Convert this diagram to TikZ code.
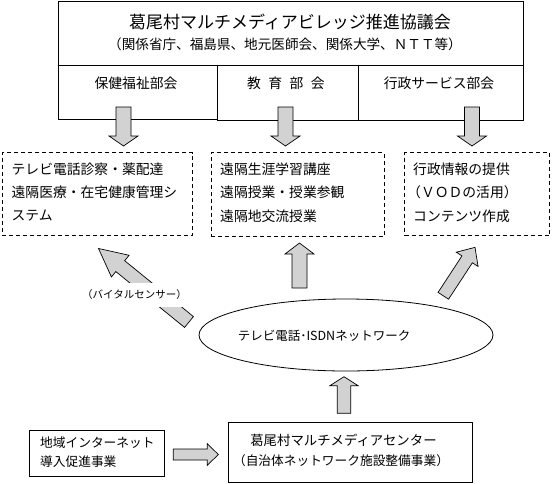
\documentclass[tikz,border=0pt]{standalone}
\usepackage{fontspec}
\setmainfont{Noto Sans CJK JP}
\usetikzlibrary{shapes.geometric}
\definecolor{arrowgray}{RGB}{210,210,210}
\tikzset{
  pics/barrow/.style n args={4}{code={
    \draw[arrowfill] (0,-#3/2) -- ({#1-#2},-#3/2) -- ({#1-#2},-#4/2) -- (#1,0)
      -- ({#1-#2},#4/2) -- ({#1-#2},#3/2) -- (0,#3/2) -- cycle;
  }}
}
\begin{document}
\begin{tikzpicture}[x=1pt,y=-1pt,
  box/.style={draw, line width=0.8pt, inner sep=0pt},
  dbox/.style={draw, line width=0.8pt, dash pattern=on 4pt off 3pt, inner sep=0pt},
  txt/.style={inner sep=0pt, font=\fontsize{13.8}{16}\selectfont},
  ltxt/.style={txt, anchor=west},
  arrowfill/.style={draw=black, line width=0.7pt, fill=arrowgray, line join=miter},
]
\useasboundingbox (0,0) rectangle (554,483);
% council block
\node[box, minimum width=465pt, minimum height=64pt] (council) at (290.5,33) {};
\node[box, minimum width=159pt, minimum height=54pt] (health) at (137.5,92) {};
\node[box, minimum width=141.5pt, minimum height=55pt] (edu) at (287.75,92.5) {};
\node[box, minimum width=164.5pt, minimum height=55pt] (admin) at (440.75,92.5) {};
\draw[line width=1.6pt] (council.south west) -- (council.south east);
\node[txt, font=\fontsize{17}{20}\selectfont] (title) at (290,22) {葛尾村マルチメディアビレッジ推進協議会};
\node[txt, font=\fontsize{13.6}{16}\selectfont] (subtitle) at (285,44.5) {（関係省庁、福島県、地元医師会、関係大学、ＮＴＴ等）};
\node[txt] (healthlbl) at (136,83.5) {保健福祉部会};
\node[txt] (edulbl) at (286,83.5) {教\hspace{0.54em}育\hspace{0.54em}部\hspace{0.54em}会};
\node[txt] (adminlbl) at (439,83.5) {行政サービス部会};
% down arrows
\pic[rotate=-90] at (123.5,107) {barrow={39}{10}{15}{29}};
\pic[rotate=-90] at (285.5,107) {barrow={39}{10}{15}{29}};
\pic[rotate=-90] at (472,107) {barrow={39}{10}{15}{29}};
% dashed boxes
\node[dbox, minimum width=190.5pt, minimum height=83pt] (med) at (97.25,194) {};
\node[dbox, minimum width=173pt, minimum height=84pt] (edu2) at (297.5,194.5) {};
\node[dbox, minimum width=145pt, minimum height=83pt] (adm2) at (477,194) {};
\node[ltxt] (m1) at (11.5,169) {テレビ電話診察・薬配達};
\node[ltxt] (m2) at (11.5,192.5) {遠隔医療・在宅健康管理シ};
\node[ltxt] (m3) at (11.5,216) {ステム};
\node[ltxt] (e1) at (220,169) {遠隔生涯学習講座};
\node[ltxt] (e2) at (220,192.5) {遠隔授業・授業参観};
\node[ltxt] (e3) at (220,216) {遠隔地交流授業};
\node[ltxt] (a1) at (413,169) {行政情報の提供};
\node[ltxt] (a2) at (407,192.5) {（ＶＯＤの活用）};
\node[ltxt] (a3) at (413,216) {コンテンツ作成};
% network ellipse
\node[draw, ellipse, line width=0.8pt, inner sep=0pt, minimum width=294pt, minimum height=72pt] (net) at (346,335) {};
\node[txt, font=\fontsize{12.5}{15}\selectfont] (netlbl) at (324,336) {テレビ電話･ISDNネットワーク};
% arrows from network
\pic[rotate=140.9] at (189,322) {barrow={116.6}{28}{14}{28}};
\node[inner sep=1pt, fill=white, minimum height=24pt, font=\fontsize{10.5}{12}\selectfont] (vital) at (134.5,295) {（バイタルセンサー）};
\pic[rotate=90] at (299.5,288) {barrow={45}{11}{15}{29}};
\pic[rotate=56.8] at (443.3,295.8) {barrow={57.9}{14.3}{12.5}{26}};
% bottom boxes
\node[box, minimum width=135pt, minimum height=46pt] (intro) at (97,453) {};
\node[box, minimum width=244pt, minimum height=59.5pt] (center) at (350.5,452.25) {};
\node[ltxt, font=\fontsize{12.7}{15}\selectfont] (i1) at (40,443) {地域インターネット};
\node[ltxt, font=\fontsize{12.7}{15}\selectfont] (i2) at (40,462) {導入促進事業};
\node[txt, font=\fontsize{13.4}{16}\selectfont] (c1) at (343.5,440) {葛尾村マルチメディアセンター};
\node[txt, font=\fontsize{12.7}{15}\selectfont] (c2) at (341,461) {（自治体ネットワーク施設整備事業）};
\pic at (173.3,454.5) {barrow={45}{11}{11}{21.7}};
\pic[rotate=90] at (344,413.3) {barrow={36.6}{9}{13.4}{28.3}};
\end{tikzpicture}
\end{document}
